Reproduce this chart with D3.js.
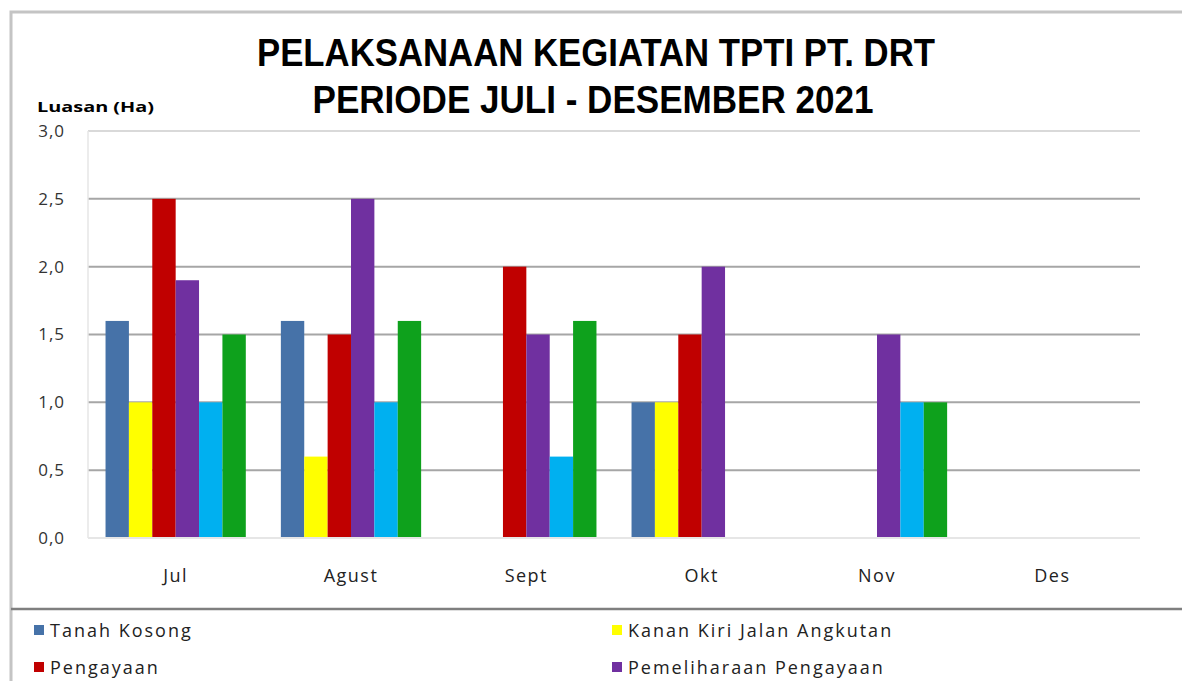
<!DOCTYPE html>
<html>
<head>
<meta charset="utf-8">
<script src="https://cdn.jsdelivr.net/npm/d3@7"></script>
<style>
body{margin:0;background:#fff;}
svg{display:block;}
</style>
</head>
<body>
<div id="chart"></div>
<script>
var bulan=["Jul","Agust","Sept","Okt","Nov","Des"];
var seri=["Tanah Kosong","Kanan Kiri Jalan Angkutan","Pengayaan","Pemeliharaan Pengayaan","Pemeliharaan Tanah Kosong","Pemeliharaan Kanan Kiri Jalan"];
var warna=["#4672a8","#ffff00","#c00000","#7030a0","#00b0f0","#0ea11c"];
// nilai tiap seri per bulan (Ha)
var tanahKosong=[1.6,1.6,0,1.0,0,0];
var kananKiri=[1.0,0.6,0,1.0,0,0];
var pengayaan=[2.5,1.5,2.0,1.5,0,0];
var pemeliharaanPengayaan=[1.9,2.5,1.5,2.0,1.5,0];
var seri5=[1.0,1.0,0.6,0,1.0,0];
var seri6=[1.5,1.6,1.6,0,1.0,0];
var nilai=[tanahKosong,kananKiri,pengayaan,pemeliharaanPengayaan,seri5,seri6];
var yTicks=[0,0.5,1,1.5,2,2.5,3];

var W=1182,H=681;
var svg=d3.select("#chart").append("svg").attr("width",W).attr("height",H);

// bingkai
svg.append("path").attr("d","M11,"+H+"V12H"+W).attr("fill","none").attr("stroke","#c4c4c4").attr("stroke-width",3);
svg.append("line").attr("x1",11).attr("x2",W).attr("y1",609).attr("y2",609).attr("stroke","#7f7f7f").attr("stroke-width",2.5);

// judul
var judul=svg.append("text").attr("text-anchor","middle")
	.style("font-family","'Liberation Sans Narrow','Arial Narrow',sans-serif")
	.style("font-weight","bold").style("font-size","38px").attr("fill","#000");
judul.append("tspan").attr("x",596).attr("y",66).attr("textLength",678).attr("lengthAdjust","spacingAndGlyphs").text("PELAKSANAAN KEGIATAN TPTI PT. DRT");
judul.append("tspan").attr("x",593).attr("y",113).attr("textLength",561).attr("lengthAdjust","spacingAndGlyphs").text("PERIODE JULI - DESEMBER 2021");

svg.append("text").attr("x",37).attr("y",112)
	.style("font-family","'Open Sans',sans-serif").style("font-weight","bold").style("font-size","15px")
	.attr("textLength",117).attr("lengthAdjust","spacingAndGlyphs").text("Luasan (Ha)");

var x0=d3.scaleBand().domain(bulan).range([88,1140]).paddingInner(0.2).paddingOuter(0.1);
var x1=d3.scaleBand().domain(d3.range(seri.length)).range([0,x0.bandwidth()]);
var y=d3.scaleLinear().domain([0,3]).range([538,131]);

// grid
svg.append("g").selectAll("line").data(yTicks.slice(1)).enter().append("line")
	.attr("x1",88).attr("x2",1140)
	.attr("y1",function(d){return y(d);}).attr("y2",function(d){return y(d);})
	.attr("stroke",function(d){return d==3?"#d9d9d9":"#a6a6a6";}).attr("stroke-width",2);
svg.append("line").attr("x1",88).attr("x2",88).attr("y1",y(3)).attr("y2",y(0)).attr("stroke","#e6e6e6").attr("stroke-width",1.5);

var fmt=function(d){return d3.format(".1f")(d).replace(".",",");};
var yAxis=d3.axisLeft(y).tickValues(yTicks).tickFormat(fmt).tickSize(0).tickPadding(23);
var gy=svg.append("g").attr("transform","translate(88,0)").call(yAxis);
gy.select(".domain").remove();
gy.selectAll("text").style("font-family","'Open Sans',sans-serif").style("font-size","17px").style("letter-spacing","1px").attr("fill","#333");

// batang
nilai.forEach(function(arr,si){
	svg.append("g").selectAll("rect").data(arr).enter().append("rect")
		.attr("x",function(d,i){return x0(bulan[i])+x1(si);})
		.attr("width",x1.bandwidth())
		.attr("y",function(d){return y(d);})
		.attr("height",function(d){return y(0)-y(d);})
		.attr("fill",warna[si]);
});

svg.append("line").attr("x1",88).attr("x2",1140).attr("y1",y(0)).attr("y2",y(0)).attr("stroke","#e6e6e6").attr("stroke-width",2);

var xAxis=d3.axisBottom(x0).tickSize(0).tickPadding(0);
var gx=svg.append("g").attr("transform","translate(0,"+y(0)+")").call(xAxis);
gx.select(".domain").remove();
gx.selectAll("text").attr("dy",0).attr("y",44).style("font-family","'Open Sans',sans-serif").style("font-size","18px").style("letter-spacing","1.5px").attr("fill","#222");

// legenda (bagian bawah terpotong)
var leg=svg.append("g");
seri.forEach(function(s,i){
	var lx=i%2==0?34:612, ly=630+Math.floor(i/2)*37;
	if(ly>H-8)return;
	leg.append("rect").attr("x",lx).attr("y",ly-5).attr("width",10).attr("height",10).attr("fill",warna[i]);
	leg.append("text").attr("x",lx+16).attr("y",ly+7)
		.style("font-family","'Open Sans',sans-serif").style("font-size","18px").style("letter-spacing","2px").attr("fill","#222").text(s);
});
</script>
</body>
</html>
